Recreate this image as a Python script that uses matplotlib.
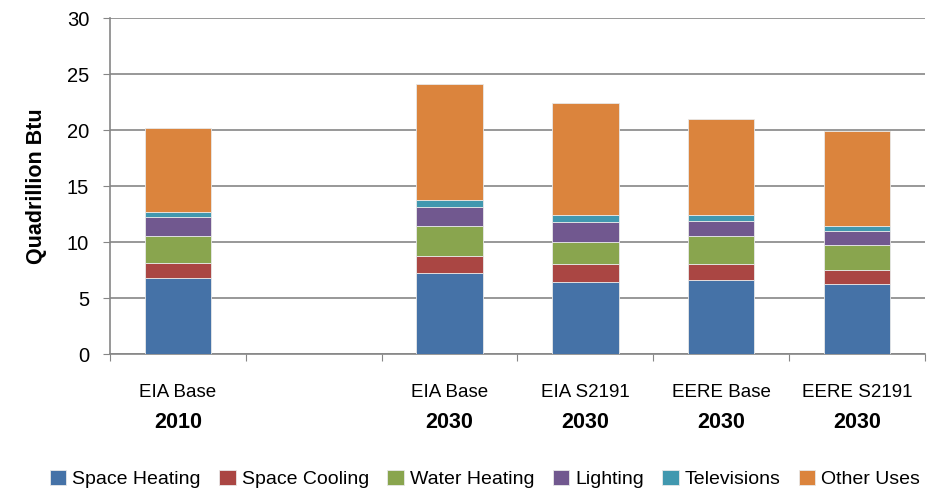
import matplotlib.pyplot as plt
import numpy as np

# category slots (slot 1 is left empty as in the original chart)
scenarios = ['EIA Base', '', 'EIA Base', 'EIA S2191', 'EERE Base', 'EERE S2191']
years = ['2010', '', '2030', '2030', '2030', '2030']

uses = ['Space Heating', 'Space Cooling', 'Water Heating', 'Lighting', 'Televisions', 'Other Uses']
space_heating = [6.77, 0, 7.24, 6.47, 6.65, 6.29]
space_cooling = [1.39, 0, 1.51, 1.54, 1.36, 1.22]
water_heating = [2.34, 0, 2.70, 2.02, 2.49, 2.25]
lighting      = [1.73, 0, 1.70, 1.72, 1.40, 1.22]
televisions   = [0.44, 0, 0.62, 0.62, 0.47, 0.47]
other_uses    = [7.51, 0, 10.33, 10.00, 8.61, 8.43]

colors = ['#4572A7', '#AA4643', '#89A54E', '#71588F', '#4198AF', '#DB843D']

plt.rcParams['font.family'] = ['Liberation Sans', 'DejaVu Sans']

fig = plt.figure(figsize=(9.38, 4.91), dpi=100)
ax = fig.add_axes([0.1173, 0.279, 0.8687, 0.6843])

x = np.arange(len(scenarios))
bottom = np.zeros(len(scenarios))
series = [space_heating, space_cooling, water_heating, lighting, televisions, other_uses]
for name, vals, c in zip(uses, series, colors):
    vals = np.array(vals)
    ax.bar(x, vals, 0.49, bottom=bottom, color=c, label=name,
           edgecolor='#e8e8e8', linewidth=0.6, zorder=3)
    bottom += vals

ax.set_xlim(-0.5, len(scenarios) - 0.5)
ax.set_ylim(0, 30)
ax.set_yticks(np.arange(0, 31, 5))
ax.yaxis.grid(True, color='#868686', linewidth=1.2, zorder=0)
ax.tick_params(axis='y', labelsize=14.5, length=5, color='#868686', pad=10)

ax.set_xticks(np.arange(-0.5, len(scenarios), 1))
ax.set_xticklabels([])
ax.tick_params(axis='x', length=5, color='#868686')
for i in x:
    if scenarios[i]:
        ax.text(i, -3.45, scenarios[i], ha='center', va='center', fontsize=13.5)
        ax.text(i, -6.1, years[i], ha='center', va='center', fontsize=15.5, fontweight='bold')

for s in ['top', 'right']:
    ax.spines[s].set_visible(False)
for s in ['left', 'bottom']:
    ax.spines[s].set_color('#868686')
    ax.spines[s].set_linewidth(1.2)

ax.set_ylabel('Quadrillion Btu', fontsize=15.5, fontweight='bold', labelpad=14)

fig.legend(loc='center', bbox_to_anchor=(0.517, 0.024), ncol=6, frameon=False,
           fontsize=14, handlelength=0.85, handleheight=0.85, handletextpad=0.3,
           columnspacing=0.95)

fig.savefig('out.png', dpi=100)
